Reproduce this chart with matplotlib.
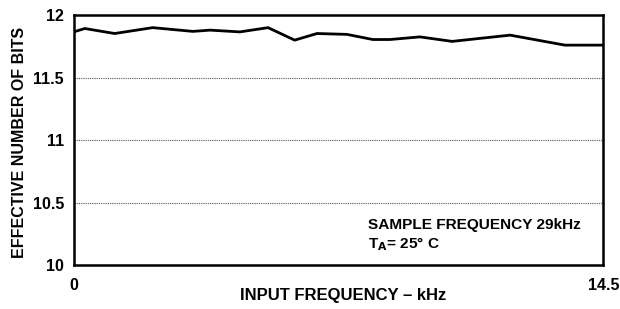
import matplotlib
matplotlib.use("Agg")
import matplotlib.pyplot as plt

freq_khz = [0.0, 0.3, 1.12, 2.16, 3.26, 3.73, 4.55, 5.32, 6.05, 6.66, 7.48, 8.19, 8.66, 9.48, 10.36, 11.95, 13.45, 14.5]
enob = [11.866, 11.893, 11.853, 11.90, 11.87, 11.88, 11.866, 11.90, 11.80, 11.853, 11.846, 11.805, 11.805, 11.826, 11.79, 11.84, 11.76, 11.76]
yticks = [10, 10.5, 11, 11.5, 12]
ytick_labels = ["10", "10.5", "11", "11.5", "12"]
xticks = [0, 14.5]
xtick_labels = ["0", "14.5"]

plt.rcParams['font.family'] = ['Liberation Sans', 'DejaVu Sans']
plt.rcParams['font.weight'] = 'bold'

fig = plt.figure(figsize=(6.2, 3.09), dpi=100)
ax = fig.add_axes([0.119, 0.142, 0.854, 0.809])
ax.plot(freq_khz, enob, color='black', lw=2.0)
ax.set_xlim(0, 14.5)
ax.set_ylim(10, 12)
ax.set_yticks(yticks)
ax.set_yticklabels(ytick_labels, fontsize=11.5, fontweight='bold')
ax.set_xticks(xticks)
ax.set_xticklabels(xtick_labels, fontsize=11.5, fontweight='bold')
ax.tick_params(axis='y', length=0, pad=7)
ax.tick_params(axis='x', length=0, pad=9)
for y in yticks[1:-1]:
    ax.axhline(y, color='#555555', lw=0.8, ls=(0, (1, 1)))
for s in ax.spines.values():
    s.set_linewidth(1.8)
ax.set_xlabel("INPUT FREQUENCY – kHz", fontsize=12, fontweight='bold')
ax.xaxis.set_label_coords(0.508, -0.09)
ax.set_ylabel("EFFECTIVE NUMBER OF BITS", fontsize=11.5, fontweight='bold')
ax.yaxis.set_label_coords(-0.088, 0.49)
ax.text(0.555, 0.16, "SAMPLE FREQUENCY 29kHz", transform=ax.transAxes, fontsize=11.1, fontweight='bold', va='center')
ax.text(0.555, 0.082, r"T$_\mathbf{A}$= 25° C", transform=ax.transAxes, fontsize=11.1, fontweight='bold', va='center')
fig.savefig("out.png", dpi=100)
